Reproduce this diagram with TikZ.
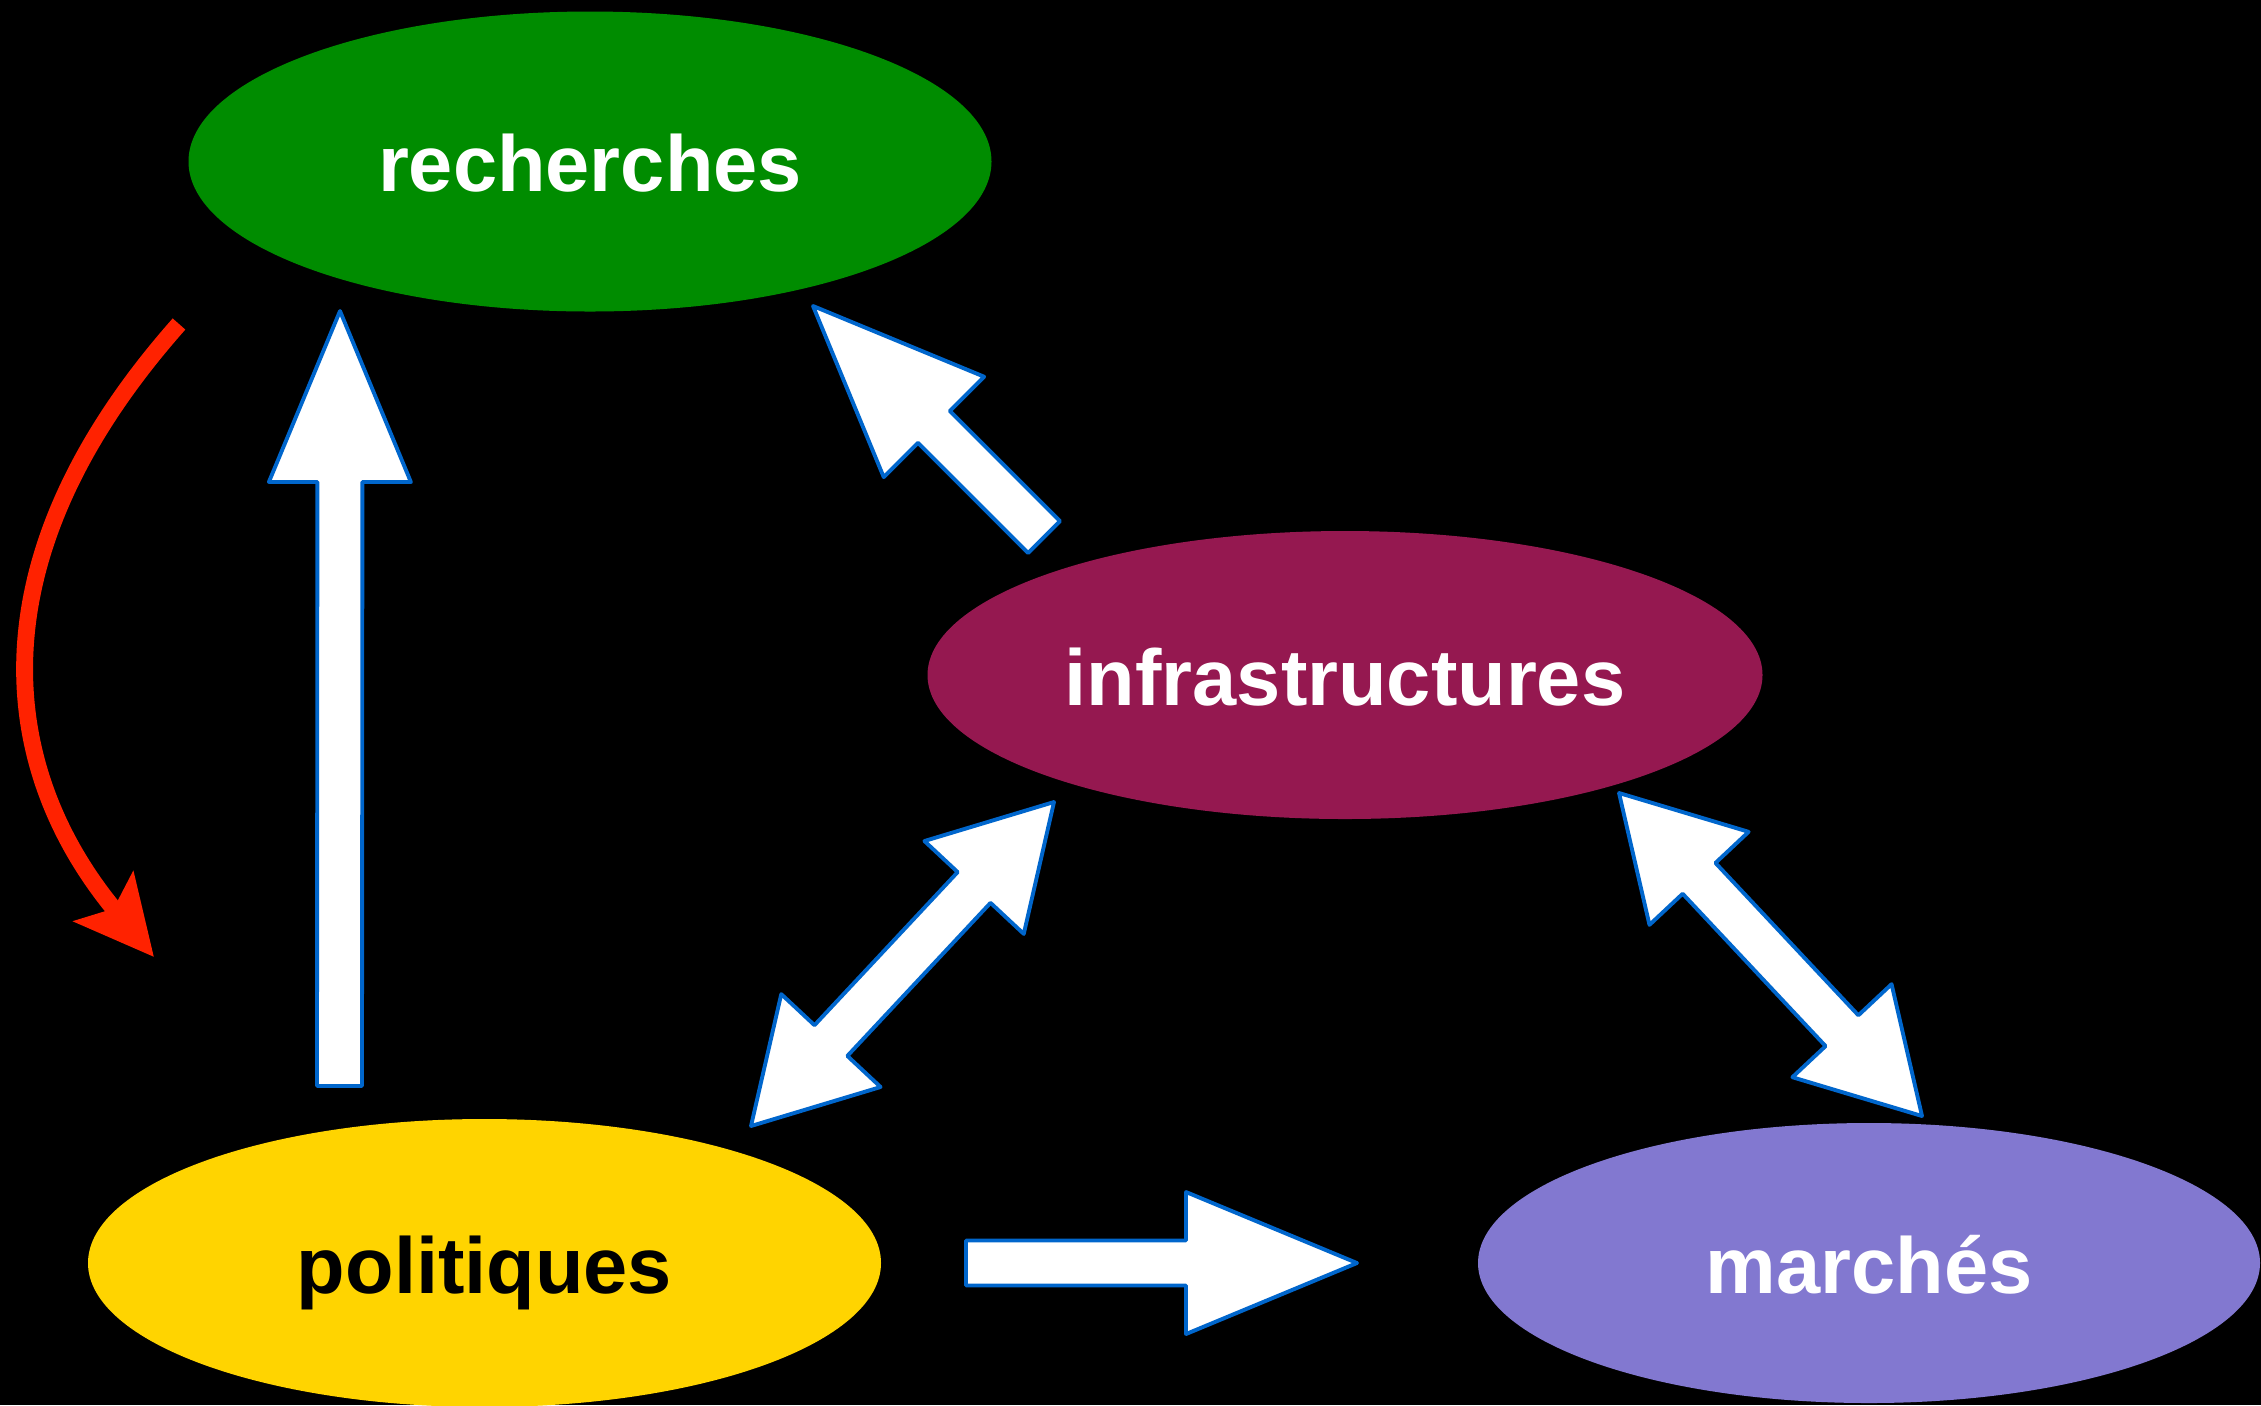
\documentclass[tikz,border=0pt]{standalone}
\usepackage{fontspec}
\setmainfont{Liberation Sans}
\usetikzlibrary{shapes.geometric,calc,arrows.meta}
\definecolor{rechgreen}{RGB}{0,140,0}
\definecolor{infrapurple}{RGB}{149,24,80}
\definecolor{poligold}{RGB}{255,212,0}
\definecolor{marchlilac}{RGB}{130,120,208}
\definecolor{arrowblue}{RGB}{0,102,204}
\definecolor{loopred}{RGB}{255,34,0}
\tikzset{
	bubble/.style={ellipse,inner sep=0pt,text=white,text height=0.6cm,text depth=0pt,font=\fontsize{22.6}{27}\selectfont\bfseries},
	fatarrow/.style={fill=white,draw=arrowblue,line width=1.1pt,line join=round},
}
\newcommand{\onearrow}[2]{%
	\coordinate (hb) at ($(#2)!1.71cm!(#1)$);
	\draw[fatarrow] ($(#1)!0.225cm!90:(#2)$) -- ($(hb)!0.225cm!90:(#2)$) -- ($(hb)!0.71cm!90:(#2)$) -- (#2) -- ($(hb)!0.71cm!-90:(#2)$) -- ($(hb)!0.225cm!-90:(#2)$) -- ($(#1)!0.225cm!-90:(#2)$) -- cycle;}
\newcommand{\twoarrow}[2]{%
	\coordinate (ha) at ($(#1)!1.17cm!(#2)$);
	\coordinate (hb) at ($(#2)!1.17cm!(#1)$);
	\draw[fatarrow] (#1) -- ($(ha)!0.68cm!90:(#2)$) -- ($(ha)!0.225cm!90:(#2)$) -- ($(hb)!0.225cm!-90:(#1)$) -- ($(hb)!0.68cm!-90:(#1)$) -- (#2) -- ($(hb)!0.68cm!90:(#1)$) -- ($(hb)!0.225cm!90:(#1)$) -- ($(ha)!0.225cm!-90:(#2)$) -- ($(ha)!0.68cm!-90:(#2)$) -- cycle;}
\begin{document}
\begin{tikzpicture}
	\path[use as bounding box,fill=black] (0,0) rectangle (22.61,-14.05);
	\node[bubble,fill=rechgreen,minimum width=8.03cm,minimum height=3cm] (rech) at (5.90,-1.615) {recherches};
	\node[bubble,fill=infrapurple,minimum width=8.35cm,minimum height=2.88cm] (infra) at (13.45,-6.75) {infrastructures};
	\node[bubble,fill=poligold,text=black,minimum width=7.93cm,minimum height=2.88cm] (poli) at (4.845,-12.63) {politiques};
	\node[bubble,fill=marchlilac,minimum width=7.82cm,minimum height=2.8cm] (march) at (18.69,-12.63) {marchés};
	\coordinate (poliout) at (3.395,-10.86);
	\coordinate (rechin) at (3.40,-3.11);
	\coordinate (infraout) at (10.44,-5.37);
	\coordinate (rechin2) at (8.13,-3.06);
	\coordinate (infraleft) at (10.54,-8.02);
	\coordinate (polright) at (7.51,-11.26);
	\coordinate (infraright) at (16.19,-7.93);
	\coordinate (marchtop) at (19.22,-11.16);
	\coordinate (polieast) at (9.66,-12.63);
	\coordinate (marchwest) at (13.57,-12.63);
	\onearrow{poliout}{rechin}
	\onearrow{infraout}{rechin2}
	\twoarrow{infraleft}{polright}
	\twoarrow{infraright}{marchtop}
	\onearrow{polieast}{marchwest}
	\coordinate (loopstart) at (1.79,-3.24);
	\coordinate (loopend) at (1.54,-9.57);
	\draw[loopred,line width=4.8pt,-{Stealth[length=0.78cm,width=0.76cm,inset=0.15cm]}] (loopstart) .. controls (-0.30,-5.60) and (-0.02,-7.70) .. (loopend);
\end{tikzpicture}
\end{document}
